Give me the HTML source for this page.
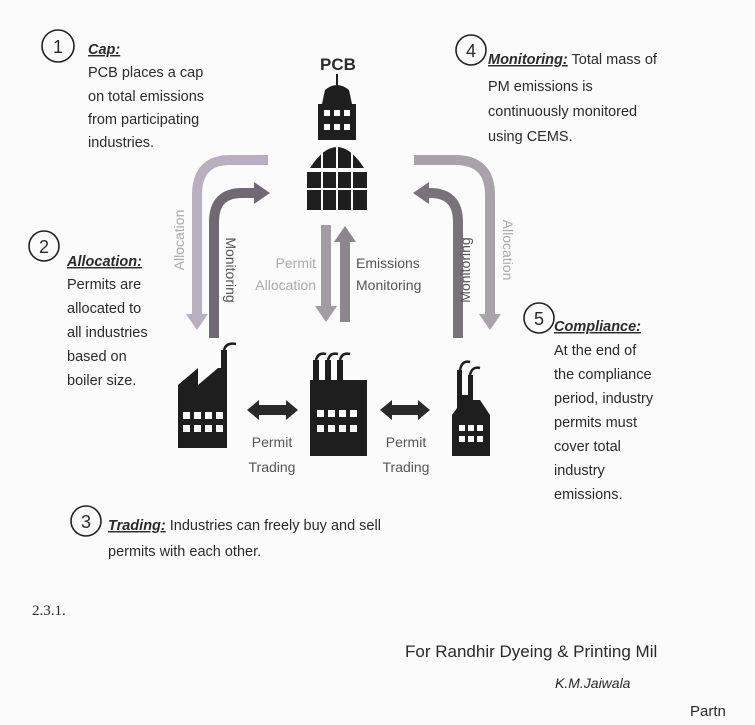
<!DOCTYPE html>
<html><head><meta charset="utf-8"><style>
html,body{margin:0;padding:0;background:#fbfbfb;}
svg{display:block}
text{font-family:"Liberation Sans",sans-serif;fill:#2a2a2a;}
.t{font-size:14.5px;}
.h{font-weight:bold;font-style:italic;text-decoration:underline;}
.lbl{font-size:14px;fill:#555;}
.lt{font-size:14px;fill:#aaa;}
</style></head><body>
<svg width="755" height="725" viewBox="0 0 755 725">
<defs>
<marker id="ah" markerWidth="16" markerHeight="22" refX="0" refY="11" orient="auto" markerUnits="userSpaceOnUse">
<path d="M0,0 L16,11 L0,22 z" fill="context-stroke"/></marker>
</defs>
<g fill="none" stroke="#222" stroke-width="1.6">
<circle cx="58" cy="46" r="16"/><circle cx="44" cy="246" r="15"/>
<circle cx="471" cy="50" r="15"/><circle cx="539" cy="318" r="15"/>
<circle cx="86" cy="521" r="15"/>
</g>
<g font-size="18" text-anchor="middle">
<text x="58" y="53">1</text><text x="44" y="253">2</text><text x="471" y="57">4</text>
<text x="539" y="325">5</text><text x="86" y="528">3</text></g>
<text class="t" x="88" y="54"><tspan class="h">Cap:</tspan></text>
<text class="t" x="88" y="77">PCB places a cap</text>
<text class="t" x="88" y="101">on total emissions</text>
<text class="t" x="88" y="124">from participating</text>
<text class="t" x="88" y="147">industries.</text>
<text class="t" x="67" y="266"><tspan class="h">Allocation:</tspan></text>
<text class="t" x="67" y="289">Permits are</text>
<text class="t" x="67" y="313">allocated to</text>
<text class="t" x="67" y="337">all industries</text>
<text class="t" x="67" y="361">based on</text>
<text class="t" x="67" y="385">boiler size.</text>
<text class="t" x="488" y="64"><tspan class="h">Monitoring:</tspan> Total mass of</text>
<text class="t" x="488" y="91">PM emissions is</text>
<text class="t" x="488" y="116">continuously monitored</text>
<text class="t" x="488" y="141">using CEMS.</text>
<text class="t" x="554" y="331"><tspan class="h">Compliance:</tspan></text>
<text class="t" x="554" y="355">At the end of</text>
<text class="t" x="554" y="379">the compliance</text>
<text class="t" x="554" y="403">period, industry</text>
<text class="t" x="554" y="427">permits must</text>
<text class="t" x="554" y="451">cover total</text>
<text class="t" x="554" y="475">industry</text>
<text class="t" x="554" y="499">emissions.</text>
<text class="t" x="108" y="530"><tspan class="h">Trading:</tspan> Industries can freely buy and sell</text>
<text class="t" x="108" y="556">permits with each other.</text>
<text x="338" y="70" font-size="17" font-weight="bold" text-anchor="middle" fill="#222">PCB</text>
<g fill="#1e1e1e">
<rect x="336" y="74" width="2" height="14"/>
<path d="M325,90 Q337,80 349,90 L352,104 L322,104 Z"/>
<rect x="318" y="104" width="38" height="36"/>
<path d="M310,168 Q337,126 364,168 Z"/>
<rect x="307" y="172" width="60" height="38"/>
</g>
<g fill="#fbfbfb">
<rect x="324" y="110" width="6" height="6"/><rect x="334" y="110" width="6" height="6"/><rect x="344" y="110" width="6" height="6"/>
<rect x="324" y="124" width="6" height="6"/><rect x="334" y="124" width="6" height="6"/><rect x="344" y="124" width="6" height="6"/>
<rect x="307" y="188" width="60" height="2"/>
<rect x="321" y="145" width="2" height="65"/><rect x="336" y="140" width="2" height="70"/><rect x="351" y="145" width="2" height="65"/>
</g>
<g fill="none" stroke-width="10">
<path d="M268,160 L230,160 Q197,160 197,195 L197,314" stroke="#b8b0bf" marker-end="url(#ah)"/>
<path d="M214,338 L214,222 Q214,193 242,193 L254,193" stroke="#6f6a72" marker-end="url(#ah)"/>
<path d="M414,160 L455,160 Q490,160 490,195 L490,314" stroke="#a7a3a8" marker-end="url(#ah)"/>
<path d="M458,338 L458,222 Q458,193 430,193 L429,193" stroke="#777378" marker-end="url(#ah)"/>
<path d="M326,225 L326,306" stroke="#a09ca2" marker-end="url(#ah)"/>
<path d="M345,322 L345,242" stroke="#8b878c" marker-end="url(#ah)"/>
</g>
<text class="lt" transform="translate(184,240) rotate(-90)" text-anchor="middle">Allocation</text>
<text class="lbl" transform="translate(226,270) rotate(90)" text-anchor="middle">Monitoring</text>
<text class="lbl" transform="translate(470,270) rotate(-90)" text-anchor="middle">Monitoring</text>
<text class="lt" transform="translate(503,250) rotate(90)" text-anchor="middle">Allocation</text>
<text class="lt" x="316" y="268" text-anchor="end">Permit</text>
<text class="lt" x="316" y="290" text-anchor="end">Allocation</text>
<text class="lbl" x="356" y="268">Emissions</text>
<text class="lbl" x="356" y="290">Monitoring</text>
<g fill="#1e1e1e">
<path d="M178,448 L178,385 L198,368 L198,385 L218,368 L221,368 L221,350 L227,350 L227,448 Z"/>
<rect x="310" y="380" width="57" height="76"/>
<rect x="313" y="360" width="6" height="22"/><rect x="325" y="360" width="6" height="22"/><rect x="337" y="360" width="6" height="22"/>
<path d="M452,456 L452,415 L457,408 L457,370 L462,370 L462,395 L468,395 L468,375 L473,375 L473,400 L480,400 L490,415 L490,456 Z"/>
</g>
<g fill="none" stroke="#1e1e1e" stroke-width="2.5">
<path d="M224,350 Q226,342 236,344"/>
<path d="M316,360 Q318,352 326,354"/><path d="M328,360 Q330,352 338,354"/><path d="M340,360 Q342,352 350,354"/>
<path d="M460,370 Q462,360 470,362"/><path d="M470,375 Q472,366 480,368"/>
</g>
<g fill="#fbfbfb">
<rect x="183" y="412" width="7" height="7"/><rect x="194" y="412" width="7" height="7"/><rect x="205" y="412" width="7" height="7"/><rect x="216" y="412" width="7" height="7"/>
<rect x="183" y="425" width="7" height="7"/><rect x="194" y="425" width="7" height="7"/><rect x="205" y="425" width="7" height="7"/><rect x="216" y="425" width="7" height="7"/>
<rect x="317" y="410" width="7" height="7"/><rect x="328" y="410" width="7" height="7"/><rect x="339" y="410" width="7" height="7"/><rect x="350" y="410" width="7" height="7"/>
<rect x="317" y="425" width="7" height="7"/><rect x="328" y="425" width="7" height="7"/><rect x="339" y="425" width="7" height="7"/><rect x="350" y="425" width="7" height="7"/>
<rect x="459" y="425" width="6" height="6"/><rect x="468" y="425" width="6" height="6"/><rect x="477" y="425" width="6" height="6"/>
<rect x="459" y="436" width="6" height="6"/><rect x="468" y="436" width="6" height="6"/><rect x="477" y="436" width="6" height="6"/>
</g>
<g fill="#2a2a2a">
<path d="M247,410 L259,400 L259,405 L286,405 L286,400 L298,410 L286,420 L286,415 L259,415 L259,420 Z"/>
<path d="M380,410 L392,400 L392,405 L418,405 L418,400 L430,410 L418,420 L418,415 L392,415 L392,420 Z"/>
</g>
<text class="lbl" x="272" y="447" text-anchor="middle">Permit</text>
<text class="lbl" x="272" y="472" text-anchor="middle">Trading</text>
<text class="lbl" x="406" y="447" text-anchor="middle">Permit</text>
<text class="lbl" x="406" y="472" text-anchor="middle">Trading</text>
<text x="32" y="615" font-size="15" style="font-family:'Liberation Serif',serif">2.3.1.</text>
<text x="405" y="657" font-size="17" fill="#444">For Randhir Dyeing &amp; Printing Mil</text>
<text x="555" y="688" font-size="14" font-style="italic" fill="#333">K.M.Jaiwala</text>
<text x="690" y="716" font-size="15" fill="#555">Partn</text>
</svg>
</body></html>
